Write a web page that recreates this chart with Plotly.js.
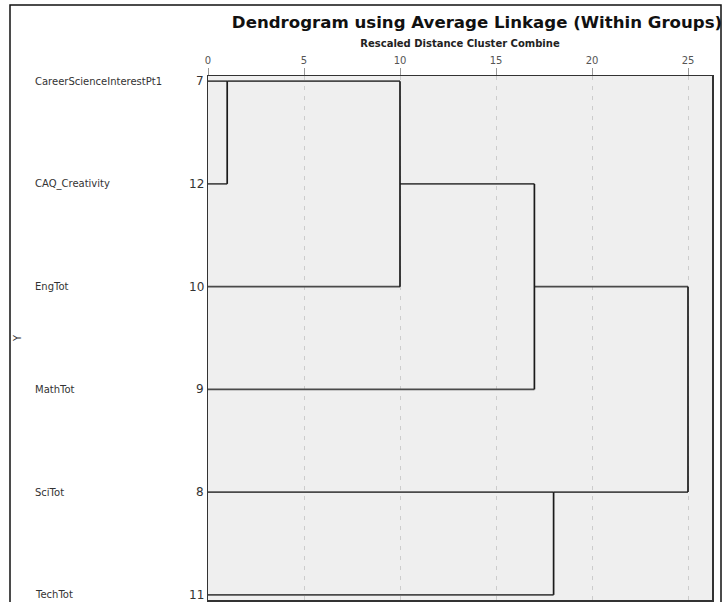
<!DOCTYPE html>
<html><head><meta charset="utf-8">
<script src="https://cdn.plot.ly/plotly-3.0.1.min.js"></script>
<style>html,body{margin:0;padding:0;background:#fff}#chart{width:727px;height:602px}</style>
</head><body><div id="chart"></div>
<script>
// Data
var leafLabels = ['CareerScienceInterestPt1','CAQ_Creativity','EngTot','MathTot','SciTot','TechTot'];
var caseNumbers = ['7','12','10','9','8','11'];
// merges: node indices (0-5 leaves, 6+ clusters in order formed) and rescaled distance
var mergeA = [0, 6, 7, 4, 8];
var mergeB = [1, 2, 3, 5, 9];
var mergeDist = [1, 10, 17, 18, 25];
var xTicks = [0, 5, 10, 15, 20, 25];

// Build dendrogram segments from merge table
var nodeY = leafLabels.map(function(_, i){ return i; });
var nodeH = leafLabels.map(function(){ return 0; });
var hx = [], hy = [], vx = [], vy = [];
for (var k = 0; k < mergeA.length; k++) {
  var a = mergeA[k], b = mergeB[k], d = mergeDist[k];
  [a, b].forEach(function(c){
    hx.push(nodeH[c], d, null); hy.push(nodeY[c], nodeY[c], null);
  });
  vx.push(d, d, null); vy.push(nodeY[a], nodeY[b], null);
  nodeY.push(Math.floor((nodeY[a] + nodeY[b]) / 2));
  nodeH.push(d);
}

var L = 208, R = 15, T = 76, B = 2, W = 727, H = 602;
var pw = W - L - R, ph = H - T - B;
function px2x(p){ return (p - L) / pw; }
function py2y(p){ return (H - B - p) / ph; }

var traces = [
  {x: hx, y: hy, mode: 'lines', type: 'scatter', line: {color: '#4a4a4a', width: 1.7}, hoverinfo: 'skip', showlegend: false},
  {x: vx, y: vy, mode: 'lines', type: 'scatter', line: {color: '#1a1a1a', width: 1.7}, hoverinfo: 'skip', showlegend: false}
];

var annotations = leafLabels.map(function(t, i){
  return {xref: 'paper', yref: 'y', x: px2x(33), y: i, text: t, showarrow: false,
    xanchor: 'left', yanchor: 'middle', font: {family: 'DejaVu Sans', size: 10, color: '#333'}};
});
caseNumbers.forEach(function(t, i){
  annotations.push({xref: 'paper', yref: 'y', x: px2x(206), y: i, text: t, showarrow: false,
    xanchor: 'right', yanchor: 'middle', font: {family: 'DejaVu Sans', size: 12, color: '#333'}});
});
annotations.push({xref: 'paper', yref: 'paper', x: px2x(17), y: py2y(338), text: 'Y', textangle: -90,
  showarrow: false, xanchor: 'center', yanchor: 'middle', font: {family: 'DejaVu Sans', size: 10, color: '#333'}});

var layout = {
  width: W, height: H,
  margin: {l: L, r: R, t: T, b: B, pad: 0},
  paper_bgcolor: '#ffffff', plot_bgcolor: '#efefef',
  title: {text: 'Dendrogram using Average Linkage (Within Groups)', x: 477 / W, xref: 'container', xanchor: 'center',
    y: 1 - 22 / H, yref: 'container', yanchor: 'middle',
    font: {family: 'DejaVu Sans', size: 16.6, color: '#111', weight: 'bold'}},
  xaxis: {side: 'top', range: [0, 26.25], tickvals: xTicks, ticktext: xTicks.map(String),
    showgrid: true, gridcolor: '#cccccc', griddash: '4px,6px', gridwidth: 1, zeroline: false,
    showline: true, linecolor: '#333', linewidth: 1.5, mirror: true,
    ticks: 'outside', ticklen: 7, tickcolor: '#999',
    tickfont: {family: 'DejaVu Sans', size: 10, color: '#555'},
    title: {text: 'Rescaled Distance Cluster Combine', standoff: 5,
      font: {family: 'DejaVu Sans', size: 10, color: '#222', weight: 'bold'}}},
  yaxis: {range: [5.05, -0.05], tickvals: [0,1,2,3,4,5], showticklabels: false,
    showgrid: false, zeroline: false, showline: true, linecolor: '#333', linewidth: 1.5, mirror: true,
    ticks: ''},
  annotations: annotations,
  shapes: [{type: 'rect', xref: 'paper', yref: 'paper', x0: px2x(10), x1: px2x(721), y0: py2y(612), y1: py2y(5),
    line: {color: '#111', width: 1.5}, fillcolor: 'rgba(0,0,0,0)', layer: 'above'}]
};
Plotly.newPlot('chart', traces, layout, {displayModeBar: false, staticPlot: true});
</script></body></html>
